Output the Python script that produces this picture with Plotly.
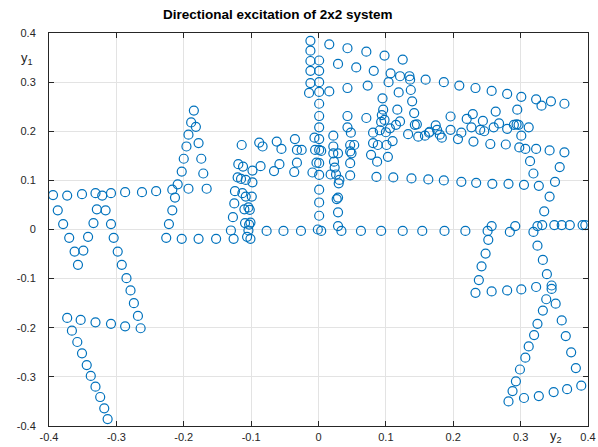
import plotly.graph_objects as go

# ---- data ----
left_x = [-0.394, -0.373, -0.351, -0.331, -0.321, -0.308, -0.287, -0.262, -0.241,
          -0.387, -0.329, -0.316, -0.379, -0.334, -0.308, -0.370, -0.342, -0.304,
          -0.362, -0.349, -0.357, -0.298, -0.292, -0.285, -0.279, -0.274, -0.268, -0.264,
          -0.287, -0.308, -0.331, -0.353, -0.373, -0.366, -0.358, -0.351, -0.344, -0.338,
          -0.331, -0.324, -0.318, -0.313]
left_y = [0.070, 0.069, 0.072, 0.074, 0.069, 0.074, 0.076, 0.076, 0.078,
          0.039, 0.041, 0.039, 0.011, 0.013, 0.011, -0.017, -0.015, -0.017,
          -0.045, -0.043, -0.072, -0.045, -0.072, -0.099, -0.124, -0.150, -0.176, -0.201,
          -0.197, -0.192, -0.189, -0.184, -0.180, -0.206, -0.229, -0.252, -0.276, -0.298,
          -0.320, -0.341, -0.364, -0.386]

peak_x = [-0.217, -0.213, -0.217, -0.222, -0.226, -0.209, -0.203, -0.200, -0.196, -0.193,
          -0.189, -0.185, -0.182, -0.178, -0.174, -0.171, -0.166, -0.193,
          -0.203, -0.178, -0.152, -0.126, -0.130, -0.106, -0.101, -0.104, -0.109, -0.103,
          -0.101, -0.077, -0.052, -0.026]
peak_y = [0.081, 0.065, 0.039, 0.011, -0.017, 0.092, 0.118, 0.144, 0.169, 0.193,
          0.218, 0.242, 0.209, 0.176, 0.144, 0.114, 0.083, 0.083,
          -0.019, -0.019, -0.019, -0.019, -0.002, -0.015, -0.019, -0.002, 0.013, 0.010,
          0.014, -0.003, -0.003, -0.003]

mid_x = [-0.114, -0.119, -0.112, -0.098, -0.120, -0.115, -0.108, -0.098, -0.124, -0.113,
         -0.108, -0.099, -0.125, -0.110, -0.104, -0.102, -0.127,
         -0.088, -0.083, -0.062, -0.055, -0.035, -0.032, -0.025, -0.006, -0.005,
         -0.086, -0.066, -0.058, -0.036, -0.032, -0.009, -0.003]
mid_y = [0.172, 0.133, 0.128, 0.120, 0.106, 0.103, 0.101, 0.096, 0.078, 0.074,
         0.067, 0.067, 0.053, 0.041, 0.045, 0.040, 0.025,
         0.177, 0.169, 0.179, 0.164, 0.184, 0.162, 0.162, 0.187, 0.162,
         0.129, 0.119, 0.133, 0.117, 0.136, 0.116, 0.136]

col_x = [-0.012, -0.012, -0.012, -0.012, -0.012, -0.014,
         0.001, 0.001, 0.001, 0.001, 0.001, 0.001, 0.001, 0.001, 0.001, 0.004,
         0.001, 0.001, 0.001, 0.001, 0.001, -0.001, 0.004]
col_y = [0.384, 0.364, 0.343, 0.323, 0.298, 0.278,
         0.344, 0.323, 0.300, 0.280, 0.256, 0.231, 0.208, 0.184, 0.162, 0.160,
         0.135, 0.111, 0.081, 0.055, 0.028, 0.000, -0.003]

top_x = [0.016, 0.043, 0.071, 0.098, 0.125,
         0.016, 0.029, 0.056, 0.082, 0.107, 0.121, 0.135, 0.136,
         0.043, 0.073, 0.104, 0.119, 0.137, 0.139, 0.142, 0.159, 0.186, 0.209, 0.233,
         0.257, 0.280, 0.301, 0.323, 0.331, 0.345, 0.365,
         0.095, 0.096, 0.094, 0.098, 0.093, 0.117, 0.043, 0.071, 0.043, 0.048, 0.022]
top_y = [0.377, 0.369, 0.362, 0.354, 0.346,
         0.281, 0.337, 0.330, 0.323, 0.318, 0.312, 0.312, 0.305,
         0.288, 0.293, 0.300, 0.279, 0.284, 0.261, 0.237, 0.305, 0.300, 0.293, 0.288,
         0.282, 0.276, 0.270, 0.265, 0.252, 0.261, 0.256,
         0.267, 0.244, 0.233, 0.223, 0.219, 0.244, 0.231, 0.227, 0.208, 0.197, 0.191]

dense_x = [0.081, 0.091, 0.100, 0.106, 0.115, 0.121,
           0.143, 0.146, 0.133, 0.148, 0.158, 0.164, 0.174, 0.180, 0.183, 0.196, 0.196,
           0.207, 0.212, 0.220, 0.229, 0.227, 0.230, 0.244, 0.246, 0.255, 0.260, 0.263,
           0.268, 0.278, 0.280, 0.290, 0.294, 0.297, 0.295, 0.301, 0.298, 0.307, 0.312,
           0.323, 0.343, 0.365, 0.165, 0.176, 0.240, 0.110,
           0.101, 0.088, 0.081, 0.078, 0.087, 0.103, 0.053, 0.047, 0.047, 0.049, 0.047, 0.047,
           0.022, 0.029, 0.022, 0.018, 0.026, 0.024, 0.023, 0.030, 0.031, 0.029, 0.027,
           0.029, 0.029, 0.034]
dense_y = [0.197, 0.202, 0.198, 0.206, 0.213, 0.220,
           0.213, 0.214, 0.194, 0.189, 0.191, 0.197, 0.212, 0.193, 0.187, 0.230, 0.203,
           0.184, 0.197, 0.225, 0.235, 0.208, 0.179, 0.221, 0.200, 0.174, 0.208, 0.240,
           0.216, 0.173, 0.205, 0.213, 0.214, 0.213, 0.244, 0.191, 0.167, 0.164, 0.208,
           0.164, 0.161, 0.157, 0.199, 0.203, 0.203, 0.180,
           0.172, 0.172, 0.176, 0.152, 0.138, 0.148, 0.172, 0.172, 0.159, 0.155, 0.135, 0.110,
           0.169, 0.155, 0.155, 0.112, 0.112, 0.126, 0.138, 0.094, 0.101, 0.065, 0.062,
           0.035, 0.007, -0.003]

rt_x = [0.314, 0.319, 0.358, 0.351, 0.343, 0.327, 0.335, 0.305, 0.282, 0.258, 0.234,
        0.212, 0.186, 0.163, 0.138, 0.111, 0.086]
rt_y = [0.139, 0.114, 0.127, 0.097, 0.067, 0.089, 0.037, 0.091, 0.093, 0.093, 0.095,
        0.097, 0.100, 0.102, 0.104, 0.106, 0.107]

row_x = [0.063, 0.093, 0.125, 0.154, 0.187, 0.218, 0.251, 0.257, 0.284, 0.292, 0.319,
         0.325, 0.332, 0.350, 0.361, 0.373, 0.392, 0.396]
row_y = [-0.003, -0.003, -0.003, -0.003, -0.003, -0.003, -0.003, 0.007, -0.005, 0.007, -0.005,
         0.007, 0.009, 0.009, 0.009, 0.009, 0.009, 0.009]

low_x = [0.252, 0.248, 0.242, 0.238, 0.233, 0.257, 0.280, 0.301, 0.323, 0.346, 0.346,
         0.325, 0.333, 0.339, 0.338, 0.352, 0.333, 0.361, 0.325, 0.367, 0.320, 0.375,
         0.312, 0.307, 0.382, 0.299, 0.293, 0.390, 0.369, 0.349, 0.327, 0.305, 0.288, 0.282]
low_y = [-0.021, -0.049, -0.075, -0.103, -0.129, -0.126, -0.124, -0.122, -0.117, -0.114, -0.121,
         -0.033, -0.062, -0.091, -0.142, -0.151, -0.165, -0.185, -0.192, -0.217, -0.215, -0.250,
         -0.238, -0.261, -0.282, -0.285, -0.309, -0.318, -0.325, -0.331, -0.339, -0.343, -0.329, -0.350]

xs = left_x + peak_x + mid_x + col_x + top_x + dense_x + rt_x + row_x + low_x
ys = left_y + peak_y + mid_y + col_y + top_y + dense_y + rt_y + row_y + low_y

tick_vals = [-0.4, -0.3, -0.2, -0.1, 0, 0.1, 0.2, 0.3, 0.4]
tick_text = ["-0.4", "-0.3", "-0.2", "-0.1", "0", "0.1", "0.2", "0.3", "0.4"]

FONT = "Liberation Sans, Arial, sans-serif"

fig = go.Figure()
fig.add_trace(go.Scatter(
    x=xs, y=ys, mode="markers",
    marker=dict(symbol="circle-open", size=9, color="#0072BD", line=dict(width=1.2, color="#0072BD")),
    hoverinfo="skip", showlegend=False,
))

axis_common = dict(
    range=[-0.4, 0.4], tickvals=tick_vals, ticktext=tick_text, automargin=False,
    showgrid=True, gridcolor="#e3e3e3", gridwidth=1,
    zeroline=False, showline=True, linecolor="#262626", linewidth=1,
    mirror="ticks", ticks="inside", ticklen=5, tickcolor="#262626",
    tickfont=dict(family=FONT, size=11, color="#262626"),
)

fig.update_layout(
    width=598, height=447,
    margin=dict(l=49, r=10, t=33, b=21),
    paper_bgcolor="white", plot_bgcolor="white",
    xaxis=dict(**axis_common, ticklabelstandoff=1),
    yaxis=dict(**axis_common, ticklabelstandoff=10),
    annotations=[
        dict(text="<b>Directional excitation of 2x2 system</b>", xref="paper", yref="paper",
             x=0.425, y=1.046, xanchor="center", yanchor="middle", showarrow=False,
             font=dict(family=FONT, size=13.5, color="black")),
        dict(text="y<sub>1</sub>", xref="paper", yref="paper", x=-0.041, y=0.935,
             xanchor="center", yanchor="middle", showarrow=False,
             font=dict(family=FONT, size=13, color="#262626")),
        dict(text="y<sub>2</sub>", xref="paper", yref="paper", x=0.94, y=-0.027,
             xanchor="center", yanchor="middle", showarrow=False,
             font=dict(family=FONT, size=13, color="#262626")),
    ],
)

fig.write_html("out.html", config={"displayModeBar": False},
               post_script="document.body.style.margin='0px';document.body.style.overflow='hidden';")
